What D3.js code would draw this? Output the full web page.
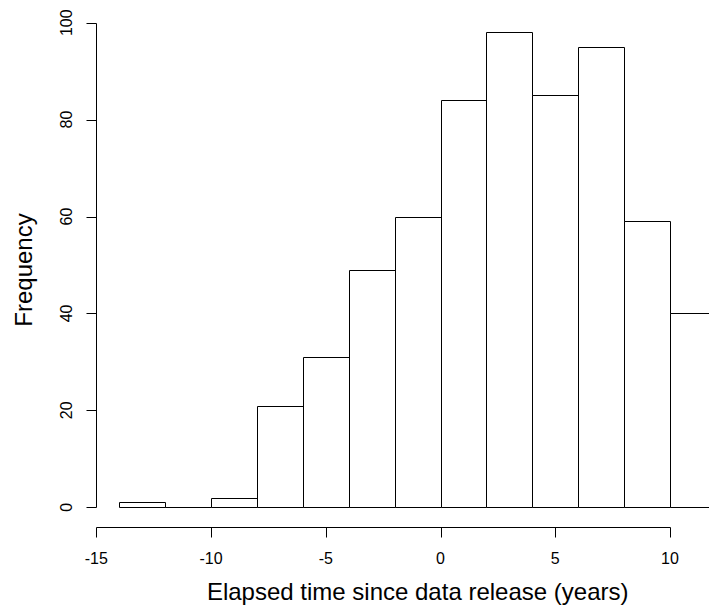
<!DOCTYPE html>
<html>
<head>
<meta charset="utf-8">
<script src="https://cdn.jsdelivr.net/npm/d3@7"></script>
<style>
	html, body { margin: 0; padding: 0; background: #fff; overflow: hidden; }
	svg { display: block; font-family: 'Liberation Sans', Arial, sans-serif; }
</style>
</head>
<body>
<div id="chart"></div>
<script>
/*

*	Histogram data

*/
var breaks = [-14, -12, -10, -8, -6, -4, -2, 0, 2, 4, 6, 8, 10, 12];
var counts = [1, 0, 2, 21, 31, 49, 60, 84, 98, 85, 95, 59, 40];
var xTicks = [-15, -10, -5, 0, 5, 10];
var yTicks = [0, 20, 40, 60, 80, 100];
var xTitle = 'Elapsed time since data release (years)';
var yTitle = 'Frequency';

var width = 709,
	height = 609;

// plot region runs past the right edge of the window, like the original
var x = d3.scaleLinear().domain([-15, 10]).range([96.3, 670]);
var y = d3.scaleLinear().domain([0, 100]).range([507.3, 22.7]);

function px(v) {
	return Math.round(v) + 0.5;
}

var svg = d3
	.select('#chart')
	.append('svg')
	.attr('width', width)
	.attr('height', height);

var bins = counts.map(function (c, i) {
	return { x0: breaks[i], x1: breaks[i + 1], n: c };
});

// paths instead of rects so an empty bin still shows its bottom edge
svg
	.append('g')
	.selectAll('path')
	.data(bins)
	.enter()
	.append('path')
	.attr('d', function (d) {
		var l = px(x(d.x0)),
			r = px(x(d.x1)),
			b = px(y(0)),
			t = px(y(d.n));
		return 'M' + l + ',' + b + 'L' + l + ',' + t + 'L' + r + ',' + t + 'L' + r + ',' + b + 'Z';
	})
	.attr('fill', 'white')
	.attr('stroke', 'black')
	.attr('stroke-width', 1);

/*

*	Axes (R style: detached from the plot box)

*/
var axisY = px(526.7);
var axisX = px(95.7);

var xAxis = svg.append('g').attr('stroke', 'black').attr('fill', 'none');
xAxis
	.append('line')
	.attr('x1', px(x(xTicks[0])))
	.attr('x2', px(x(xTicks[xTicks.length - 1])))
	.attr('y1', axisY)
	.attr('y2', axisY);
xAxis
	.selectAll('.tick')
	.data(xTicks)
	.enter()
	.append('line')
	.attr('x1', function (d) {
		return px(x(d));
	})
	.attr('x2', function (d) {
		return px(x(d));
	})
	.attr('y1', axisY)
	.attr('y2', axisY + 10);

svg
	.append('g')
	.selectAll('text')
	.data(xTicks)
	.enter()
	.append('text')
	.attr('x', function (d) {
		return x(d);
	})
	.attr('y', 563.5)
	.attr('text-anchor', 'middle')
	.attr('font-size', 16)
	.text(function (d) {
		return d;
	});

var yAxis = svg.append('g').attr('stroke', 'black').attr('fill', 'none');
yAxis
	.append('line')
	.attr('x1', axisX)
	.attr('x2', axisX)
	.attr('y1', px(y(yTicks[0])))
	.attr('y2', px(y(yTicks[yTicks.length - 1])));
yAxis
	.selectAll('.tick')
	.data(yTicks)
	.enter()
	.append('line')
	.attr('x1', axisX - 10)
	.attr('x2', axisX)
	.attr('y1', function (d) {
		return px(y(d));
	})
	.attr('y2', function (d) {
		return px(y(d));
	});

svg
	.append('g')
	.selectAll('text')
	.data(yTicks)
	.enter()
	.append('text')
	.attr('transform', function (d) {
		return 'translate(72,' + y(d) + ') rotate(-90)';
	})
	.attr('text-anchor', 'middle')
	.attr('font-size', 16)
	.text(function (d) {
		return d;
	});

/*

*	Axis titles

*/
svg
	.append('text')
	.attr('x', 417.7)
	.attr('y', 600)
	.attr('text-anchor', 'middle')
	.attr('font-size', 24)
	.text(xTitle);

svg
	.append('text')
	.attr('transform', 'translate(31.5,270) rotate(-90)')
	.attr('text-anchor', 'middle')
	.attr('font-size', 24)
	.text(yTitle);
</script>
</body>
</html>
